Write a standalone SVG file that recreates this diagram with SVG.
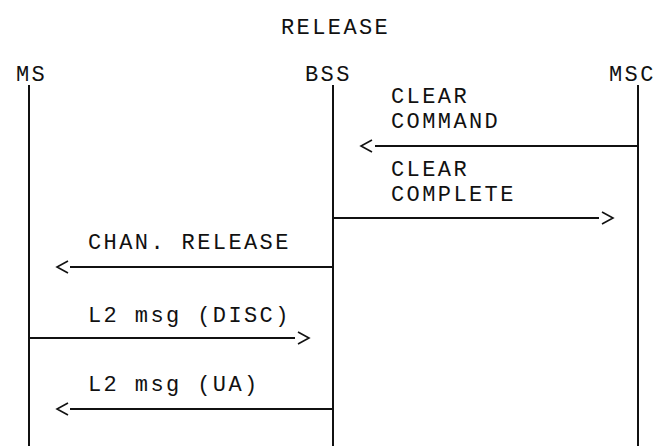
<svg xmlns="http://www.w3.org/2000/svg" width="656" height="446" viewBox="0 0 656 446">
<style>
text{font-family:"Liberation Mono","Courier New",monospace;font-size:22px;letter-spacing:2.4px;fill:#111}
.life{stroke:#111;stroke-width:2;fill:none}
.msg{stroke:#111;stroke-width:1.8;fill:none}
.head{stroke:#111;stroke-width:1.6;fill:none;stroke-linejoin:miter}
</style>
<rect width="656" height="446" fill="#fff"/>
<text x="281" y="34">RELEASE</text>
<g id="MS">
<text x="16" y="81">MS</text>
<line class="life" x1="29" y1="85" x2="29" y2="446"/>
</g>
<g id="BSS">
<text x="305" y="81">BSS</text>
<line class="life" x1="333" y1="85" x2="333" y2="446"/>
</g>
<g id="MSC">
<text x="609" y="81">MSC</text>
<line class="life" x1="638" y1="85" x2="638" y2="446"/>
</g>
<g id="connectors">
<g id="clear-command">
<text x="391" y="103">CLEAR</text>
<text x="391" y="128">COMMAND</text>
<line class="msg" x1="638" y1="146" x2="375" y2="146"/>
<polyline class="head" points="372,140 361,146 372,152"/>
</g>
<g id="clear-complete">
<text x="391" y="176">CLEAR</text>
<text x="391" y="201">COMPLETE</text>
<line class="msg" x1="333" y1="218" x2="599" y2="218"/>
<polyline class="head" points="602,212 613,218 602,224"/>
</g>
<g id="chan-release">
<text x="88" y="249">CHAN. RELEASE</text>
<line class="msg" x1="333" y1="267" x2="70" y2="267"/>
<polyline class="head" points="68,261 57,267 68,273"/>
</g>
<g id="l2-disc">
<text x="88" y="322">L2 msg (DISC)</text>
<line class="msg" x1="29" y1="338" x2="295" y2="338"/>
<polyline class="head" points="298,332 309,338 298,344"/>
</g>
<g id="l2-ua">
<text x="88" y="391">L2 msg (UA)</text>
<line class="msg" x1="333" y1="409" x2="70" y2="409"/>
<polyline class="head" points="68,403 57,409 68,415"/>
</g>
</g>
</svg>
